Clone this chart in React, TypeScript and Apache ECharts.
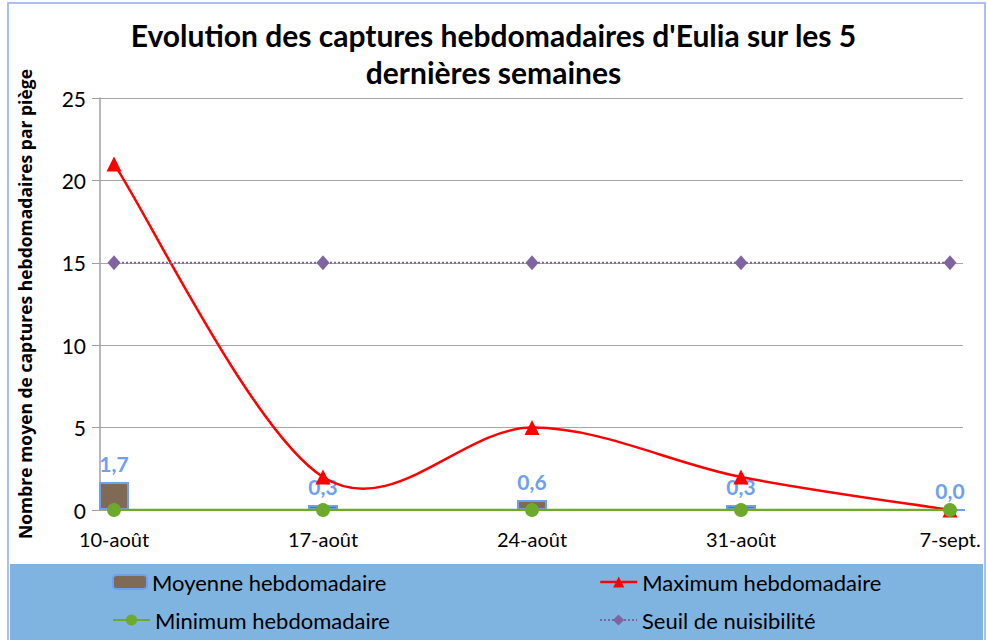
import React, { useEffect, useRef } from "react";
import * as echarts from "echarts";

const categories = ["10-août", "17-août", "24-août", "31-août", "7-sept."];
const moyenne = [1.7, 0.3, 0.6, 0.3, 0.0];
const maximum = [21, 2, 5, 2, 0];
const minimum = [0, 0, 0, 0, 0];
const seuil = [15, 15, 15, 15, 15];
const yTicks = { min: 0, max: 25, interval: 5 };

const FONT = "Lato, 'Open Sans', sans-serif";

export default function App() {
  const ref = useRef<HTMLDivElement>(null);
  useEffect(() => {
    if (!ref.current) return;
    const chart = echarts.init(ref.current, null, { renderer: "svg" });
    const fmt = (v: number) => v.toFixed(1).replace(".", ",");
    const legendCommon = {
      textStyle: { fontSize: 22, color: "#000", fontFamily: FONT },
      itemGap: 0,
      itemWidth: 37,
      itemHeight: 14,
      padding: 0,
    };
    chart.setOption({
      animation: false,
      backgroundColor: "#fff",
      title: {
        text: "Evolution des captures hebdomadaires d'Eulia sur les 5\ndernières semaines",
        left: "center",
        top: 11,
        textStyle: { fontSize: 30, fontWeight: "bold", color: "#000", fontFamily: FONT, lineHeight: 37 },
      },
      graphic: [
        { type: "rect", z: -10, shape: { x: 8, y: 3, width: 977, height: 650 }, style: { fill: "none", stroke: "#8FAAF0", lineWidth: 1.5 } },
        { type: "rect", z: -9, shape: { x: 10, y: 564, width: 973, height: 80 }, style: { fill: "#7FB4E1" } },
      ],
      legend: [
        { ...legendCommon, data: ["Moyenne hebdomadaire"], left: 112, top: 571, itemWidth: 34, itemHeight: 14 },
        {
          ...legendCommon,
          data: [{ name: "Maximum hebdomadaire", lineStyle: { color: "#FF0000", width: 2.5, opacity: 1 } }],
          left: 599, top: 571,
        },
        { ...legendCommon, data: ["Minimum hebdomadaire"], left: 112, top: 609 },
        { ...legendCommon, data: ["Seuil de nuisibilité"], left: 599, top: 609 },
      ],
      grid: [
        { left: 100, right: 24, top: 98, bottom: 130 },
        { left: 114, right: 37, top: 98, bottom: 130 },
      ],
      xAxis: [
        {
          gridIndex: 0, type: "value", min: 0, max: 1,
          axisLine: { show: true, lineStyle: { color: "#A0A0A0", width: 1.5 } },
          axisTick: { show: false }, axisLabel: { show: false }, splitLine: { show: false },
        },
        {
          gridIndex: 1, type: "category", data: categories, boundaryGap: false,
          axisLine: { show: false }, axisTick: { show: false },
          axisLabel: { fontSize: 20, color: "#000", fontFamily: FONT, margin: 19 },
        },
      ],
      yAxis: [
        {
          gridIndex: 0, type: "value", min: yTicks.min, max: yTicks.max, interval: yTicks.interval,
          name: "Nombre moyen de captures hebdomadaires par piège",
          nameLocation: "middle", nameRotate: 90, nameGap: 66,
          nameTextStyle: { fontSize: 17.5, fontWeight: "bold", color: "#000", fontFamily: "'Open Sans', sans-serif" },
          axisLine: { show: true, lineStyle: { color: "#A0A0A0", width: 1.5 } },
          axisTick: { show: true, length: 8, lineStyle: { color: "#A0A0A0" } },
          axisLabel: { fontSize: 21, color: "#000", fontFamily: FONT, margin: 14 },
          splitLine: { show: true, lineStyle: { color: "#A6A6A6", width: 1 } },
        },
        {
          gridIndex: 1, type: "value", min: yTicks.min, max: yTicks.max, interval: yTicks.interval,
          show: false, splitLine: { show: false },
        },
      ],
      series: [
        {
          name: "Moyenne hebdomadaire", type: "bar", xAxisIndex: 1, yAxisIndex: 1,
          data: moyenne, barWidth: 30, clip: false,
          itemStyle: { color: "#7F6A55", borderColor: "#6F9FF0", borderWidth: 2 },
          label: {
            show: true, position: "top", distance: 8, fontSize: 21, fontWeight: "bold",
            color: "#6F9FF0", fontFamily: FONT, formatter: (p: any) => fmt(p.value),
          },
          z: 2,
        },
        {
          type: "custom", xAxisIndex: 1, yAxisIndex: 1, silent: true, clip: false, z: 3,
          data: [[0, maximum[0]]],
          renderItem: (params: any, api: any) => {
            const pts = maximum.map((v, i) => api.coord([i, v]));
            let d = `M${pts[0][0]},${pts[0][1]}`;
            for (let i = 0; i < pts.length - 1; i++) {
              const p0 = pts[Math.max(0, i - 1)];
              const p1 = pts[i];
              const p2 = pts[i + 1];
              const p3 = pts[Math.min(pts.length - 1, i + 2)];
              const t = 1 / 6;
              const c1x = p1[0] + (p2[0] - p0[0]) * t;
              const c1y = p1[1] + (p2[1] - p0[1]) * t;
              const c2x = p2[0] - (p3[0] - p1[0]) * t;
              const c2y = p2[1] - (p3[1] - p1[1]) * t;
              d += ` C${c1x},${c1y} ${c2x},${c2y} ${p2[0]},${p2[1]}`;
            }
            return {
              type: "path",
              shape: { pathData: d },
              style: { fill: "none", stroke: "#FF0000", lineWidth: 2.5 },
            };
          },
        },
        {
          name: "Maximum hebdomadaire", type: "line", xAxisIndex: 1, yAxisIndex: 1,
          data: maximum, symbol: "triangle", symbolSize: 15,
          lineStyle: { color: "#FF0000", width: 2.5, opacity: 0 }, itemStyle: { color: "#FF0000" },
          z: 4,
        },
        {
          name: "Minimum hebdomadaire", type: "line", xAxisIndex: 1, yAxisIndex: 1,
          data: minimum, symbol: "circle", symbolSize: 14,
          lineStyle: { color: "#6DAA2C", width: 2.5 }, itemStyle: { color: "#6DAA2C" },
          z: 5,
        },
        {
          name: "Seuil de nuisibilité", type: "line", xAxisIndex: 1, yAxisIndex: 1,
          data: seuil, symbol: "diamond", symbolSize: [13, 15],
          lineStyle: { color: "#8064A2", width: 2, type: "dotted" }, itemStyle: { color: "#8064A2" },
          z: 3,
        },
      ],
    });
    return () => chart.dispose();
  }, []);
  return <div ref={ref} style={{ width: 987, height: 640, position: "absolute", left: 0, top: 0 }} />;
}
